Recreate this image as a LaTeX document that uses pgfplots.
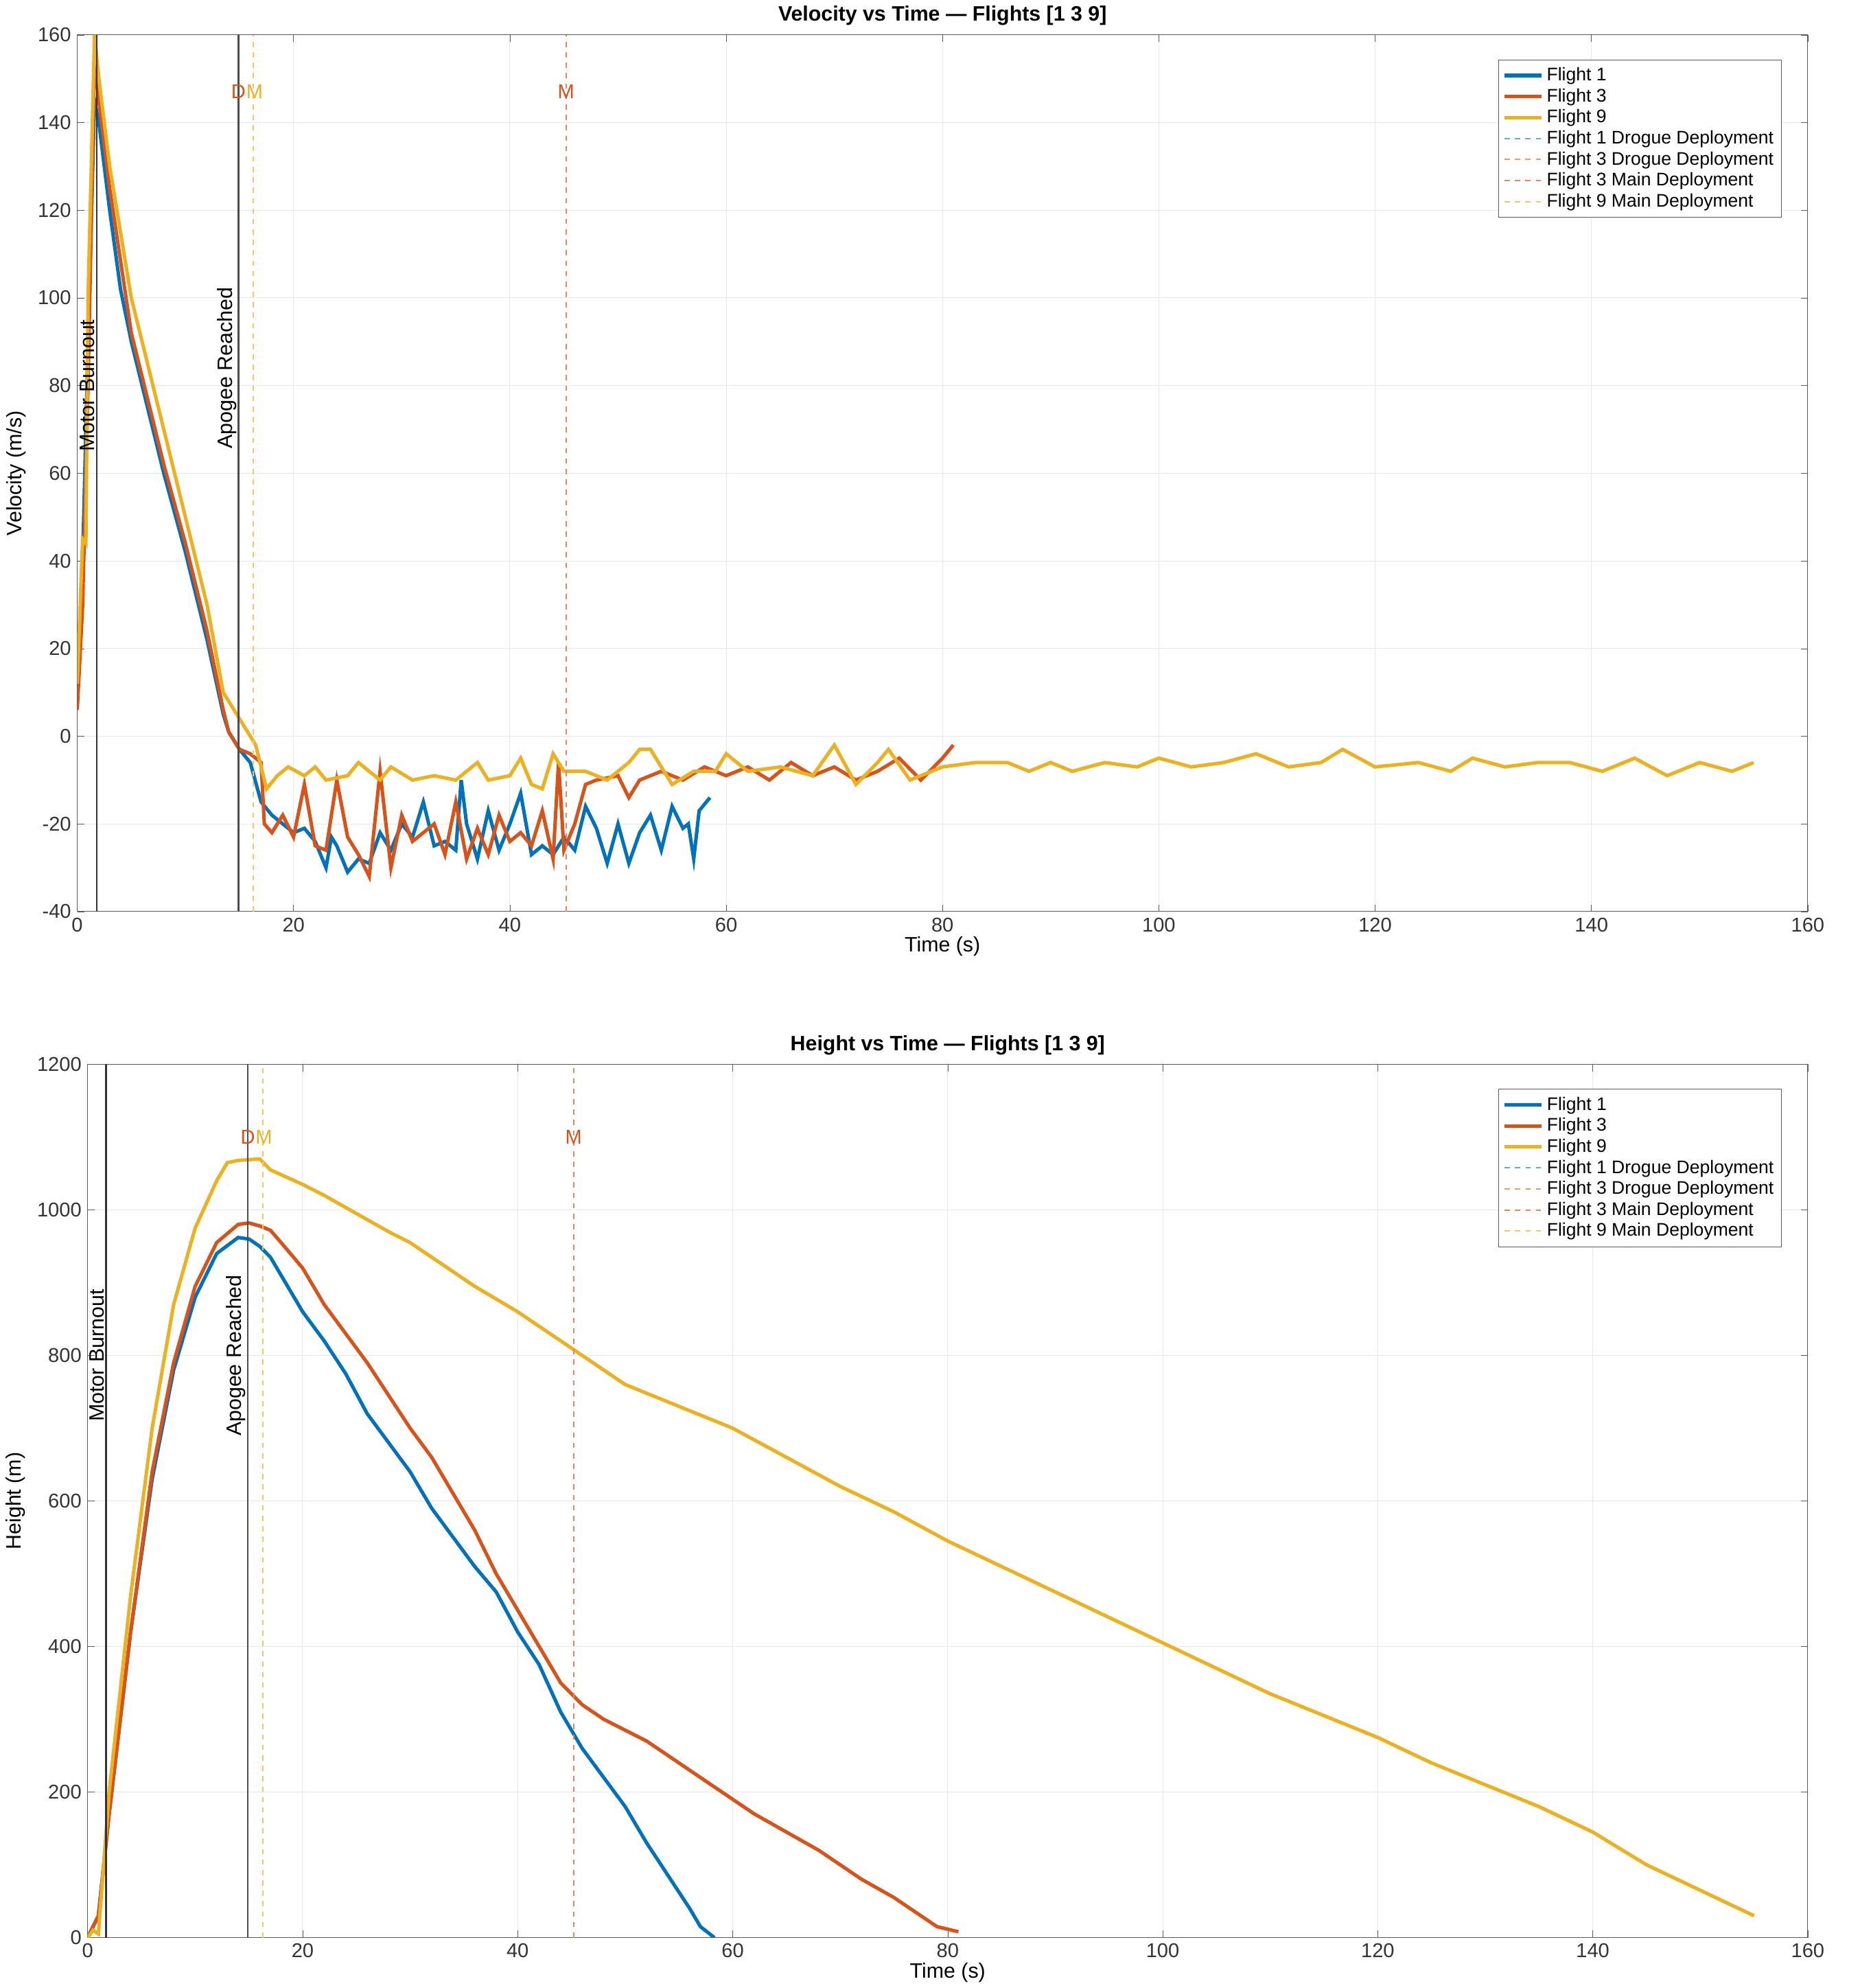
\documentclass[border=0pt]{standalone}
\usepackage{pgfplots}
\pgfplotsset{compat=1.18}
\usepackage{fontspec}
\setmainfont{Liberation Sans}
\definecolor{c1}{rgb}{0,0.447,0.741}
\definecolor{c3}{rgb}{0.85,0.325,0.098}
\definecolor{c9}{rgb}{0.929,0.694,0.125}
\pgfplotsset{
 myax/.style={scale only axis, xmin=0,xmax=160, xtick={0,20,...,160},
  grid=major, grid style={gray!18}, axis line style={gray!70!black}, tick align=inside,
  tick style={gray!70!black}, major tick length=4pt,
  /pgf/number format/assume math mode=true, /pgf/number format/1000 sep={},
  ticklabel style={font=\fontsize{11.5}{12}\selectfont, text=black!80},
  label style={font=\fontsize{12}{13}\selectfont},
  title style={font=\bfseries\fontsize{12}{13}\selectfont, yshift=-4pt},
  xlabel={Time (s)}, xlabel style={yshift=4pt},
  legend style={at={(0.985,0.972)}, anchor=north east, font=\fontsize{10.5}{11.5}\selectfont, draw=gray!70!black, row sep=-1pt, inner sep=2.5pt},
  legend image code/.code={\draw[mark repeat=2,mark phase=2,##1] plot coordinates {(0cm,0cm) (0.3cm,0cm) (0.75cm,0cm)};},
  legend cell align=left, clip=true},
}
\begin{document}
\begin{tikzpicture}
\begin{axis}[myax, width=997pt, height=505pt, ymin=-40, ymax=160, ytick={-40,-20,...,160},
 ylabel={Velocity (m/s)}, title={Velocity vs Time — Flights [1 3 9]}]
\addplot[c1, line width=2pt] coordinates {(0,10)(0.5,40)(1,90)(1.6,145)(2,140)(3,120)(4,102)(5,90)(6,80)(8,60)(10,42)(12,22)(13.5,5)(14,1)(15,-3)(16,-6)(17,-15)(18,-18)(19,-20)(20,-22)(21,-21)(22,-24)(23,-30)(23.5,-23)(24,-25)(25,-31)(26,-28)(27,-29)(28,-22)(29,-26)(30,-20)(31,-23)(32,-15)(33,-25)(34,-24)(35,-26)(35.5,-10)(36,-20)(37,-28)(38,-17)(39,-26)(40,-20)(41,-13)(42,-27)(43,-25)(44,-27)(45,-23)(46,-26)(47,-16)(48,-21)(49,-29)(50,-20)(51,-29)(52,-22)(53,-18)(54,-26)(55,-16)(56,-21)(56.5,-20)(57,-28)(57.5,-17)(58.5,-14)};
\addplot[c3, line width=2pt] coordinates {(0,6)(0.5,30)(1,80)(1.6,155)(2,145)(3,125)(5,92)(8,62)(10,44)(12,24)(13.5,6)(14,1)(15,-3)(16,-4)(17,-6)(17.3,-20)(18,-22)(19,-18)(20,-23)(21,-11)(22,-25)(23,-26)(24,-10)(25,-23)(26,-27)(27,-32)(28,-8)(29,-30)(30,-18)(31,-24)(32,-22)(33,-20)(34,-27)(35,-15)(36,-28)(37,-21)(38,-27)(39,-18)(40,-24)(41,-22)(42,-25)(43,-17)(44,-28)(44.5,-6)(45,-26)(46,-20)(47,-11)(48,-10)(50,-9)(51,-14)(52,-10)(54,-8)(56,-10)(58,-7)(60,-9)(62,-7)(64,-10)(66,-6)(68,-9)(70,-7)(72,-10)(74,-8)(76,-5)(78,-10)(80,-5)(81,-2)};
\addplot[c9, line width=2pt] coordinates {(0,12)(0.5,45)(0.8,44)(1,100)(1.6,160)(2,150)(3,130)(5,100)(8,70)(10,50)(12,30)(13.5,10)(15,4)(16.5,-2)(17.5,-12)(18.5,-9)(19.5,-7)(21,-9)(22,-7)(23,-10)(25,-9)(26,-6)(28,-10)(29,-7)(31,-10)(33,-9)(35,-10)(37,-6)(38,-10)(40,-9)(41,-5)(42,-11)(43,-12)(44,-4)(45,-8)(47,-8)(49,-10)(51,-6)(52,-3)(53,-3)(55,-11)(57,-8)(59,-8)(60,-4)(62,-8)(65,-7)(68,-9)(70,-2)(72,-11)(74,-6)(75,-3)(77,-10)(80,-7)(83,-6)(86,-6)(88,-8)(90,-6)(92,-8)(95,-6)(98,-7)(100,-5)(103,-7)(106,-6)(109,-4)(112,-7)(115,-6)(117,-3)(120,-7)(124,-6)(127,-8)(129,-5)(132,-7)(135,-6)(138,-6)(141,-8)(144,-5)(147,-9)(150,-6)(153,-8)(155,-6)};
\addplot[c1!60, dashed, line width=0.8pt] coordinates {(14.9,-40)(14.9,160)};
\addplot[c3!60, dashed, line width=0.8pt] coordinates {(14.9,-40)(14.9,160)};
\addplot[c3!70, dashed, line width=0.8pt] coordinates {(45.2,-40)(45.2,160)};
\addplot[c9!70, dashed, line width=0.8pt] coordinates {(16.3,-40)(16.3,160)};
\legend{Flight 1,Flight 3,Flight 9,Flight 1 Drogue Deployment,Flight 3 Drogue Deployment,Flight 3 Main Deployment,Flight 9 Main Deployment}
\draw[black!80, line width=1.1pt] (axis cs:1.8,-40) -- (axis cs:1.8,160);
\draw[black!70, line width=1.1pt] (axis cs:14.9,-40) -- (axis cs:14.9,160);
\node[rotate=90, anchor=south, font=\fontsize{12}{13}\selectfont, inner sep=1pt] at (axis cs:1.8,80) {Motor Burnout};
\node[rotate=90, anchor=south, font=\fontsize{12}{13}\selectfont, inner sep=1pt] at (axis cs:14.9,84) {Apogee Reached};
\node[c3, font=\fontsize{11.5}{12}\selectfont] at (axis cs:14.9,147) {D};
\node[c9, font=\fontsize{11.5}{12}\selectfont] at (axis cs:16.4,147) {M};
\node[c3, font=\fontsize{11.5}{12}\selectfont] at (axis cs:45.2,147) {M};
\end{axis}
\begin{axis}[myax, at={(6pt,-88pt)}, anchor=north west, width=991pt, height=503pt, ymin=0, ymax=1200, ytick={0,200,...,1200},
 ylabel={Height (m)}, title={Height vs Time — Flights [1 3 9]}]
\addplot[c1, line width=2pt] coordinates {(0,0)(1,30)(2,170)(4,420)(6,630)(8,780)(10,880)(12,940)(14,962)(15,960)(16,950)(17,935)(18,910)(20,860)(22,820)(24,775)(26,720)(28,680)(30,640)(32,590)(34,550)(36,510)(38,475)(40,420)(42,375)(44,310)(46,260)(48,220)(50,180)(52,130)(54,85)(56,40)(57,15)(58.3,0)};
\addplot[c3, line width=2pt] coordinates {(0,0)(1,30)(2,170)(4,420)(6,640)(8,790)(10,895)(12,955)(14,980)(15,982)(16,978)(17,972)(18,955)(20,920)(22,870)(24,830)(26,790)(28,745)(30,700)(32,660)(34,610)(36,560)(38,500)(40,450)(42,400)(44,350)(46,320)(48,300)(50,285)(52,270)(55,240)(58,210)(60,190)(62,170)(65,145)(68,120)(70,100)(72,80)(75,55)(77,35)(79,15)(81,8)};
\addplot[c9, line width=2pt] coordinates {(0,0)(0.5,10)(1,5)(2,200)(4,470)(6,700)(8,870)(10,975)(12,1040)(13,1065)(14,1068)(16,1070)(17,1055)(20,1035)(22,1020)(25,995)(28,970)(30,955)(33,925)(36,895)(40,860)(43,830)(46,800)(50,760)(55,730)(60,700)(65,660)(70,620)(75,585)(80,545)(85,510)(90,475)(95,440)(100,405)(105,370)(110,335)(115,305)(120,275)(125,240)(130,210)(135,180)(140,145)(145,100)(150,65)(155,30)};
\addplot[c1!60, dashed, line width=0.8pt] coordinates {(14.9,0)(14.9,1200)};
\addplot[c3!60, dashed, line width=0.8pt] coordinates {(14.9,0)(14.9,1200)};
\addplot[c3!70, dashed, line width=0.8pt] coordinates {(45.2,0)(45.2,1200)};
\addplot[c9!70, dashed, line width=0.8pt] coordinates {(16.3,0)(16.3,1200)};
\legend{Flight 1,Flight 3,Flight 9,Flight 1 Drogue Deployment,Flight 3 Drogue Deployment,Flight 3 Main Deployment,Flight 9 Main Deployment}
\draw[black!80, line width=1.1pt] (axis cs:1.7,0) -- (axis cs:1.7,1200);
\draw[black!70, line width=1.1pt] (axis cs:14.9,0) -- (axis cs:14.9,1200);
\node[rotate=90, anchor=south, font=\fontsize{12}{13}\selectfont, inner sep=1pt] at (axis cs:1.7,800) {Motor Burnout};
\node[rotate=90, anchor=south, font=\fontsize{12}{13}\selectfont, inner sep=1pt] at (axis cs:14.9,800) {Apogee Reached};
\node[c3, font=\fontsize{11.5}{12}\selectfont] at (axis cs:14.9,1100) {D};
\node[c9, font=\fontsize{11.5}{12}\selectfont] at (axis cs:16.4,1100) {M};
\node[c3, font=\fontsize{11.5}{12}\selectfont] at (axis cs:45.2,1100) {M};
\end{axis}
\path (1027pt,0pt);
\end{tikzpicture}
\end{document}
